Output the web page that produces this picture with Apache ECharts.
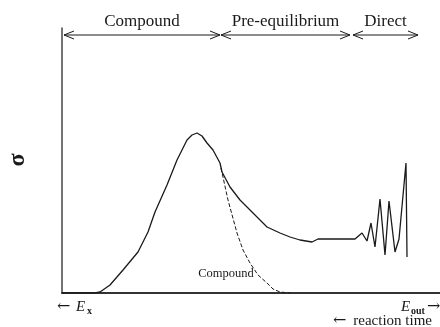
<!DOCTYPE html>
<html>
<head>
<meta charset="utf-8">
<script src="https://cdn.jsdelivr.net/npm/echarts@6/dist/echarts.min.js"></script>
<style>html,body{margin:0;padding:0;background:#fff;}#c{width:440px;height:327px;}</style>
</head>
<body>
<div id="c"></div>
<script>
// total cross section (solid)
var totalX = [0, 33, 38, 48, 61, 76, 86, 93, 105, 115, 125, 130, 135, 140, 145, 151, 158, 160, 168, 178, 191, 205, 218, 228, 238, 250, 256, 271, 293, 300, 305, 309, 313, 318, 323, 327, 333, 337, 344, 345];
var totalY = [0, 0, 1, 8, 23, 41, 61, 81, 108, 133, 153, 158, 160, 157, 150, 143, 130, 121, 106, 93, 80, 66, 60, 56, 53, 51, 54, 54, 54, 60, 52, 70, 46, 94, 38, 92, 41, 54, 130, 36];
// compound contribution (dashed)
var compoundX = [159, 166, 175, 181, 188, 196, 205, 211, 218, 228];
var compoundY = [125, 93, 60, 43, 30, 18, 10, 4, 1, 0];
// reaction regions (top arrows)
var regionNames = ['Compound', 'Pre-equilibrium', 'Direct'];
var regionStart = [2, 159, 291];
var regionEnd = [158, 288, 356];
var regionLevel = [258, 258, 258];

function pairs(xs, ys){ return xs.map(function(x,i){ return [x, ys[i]]; }); }

var chart = echarts.init(document.getElementById('c'), null, {renderer:'canvas'});
var serif = 'Liberation Serif';
var ink = '#1a1a1a';

chart.setOption({
  animation: false,
  backgroundColor: '#fff',
  grid: {left: 62, right: 0, top: 28, bottom: 34, containLabel: false},
  xAxis: {type: 'value', min: 0, max: 378, axisLine: {show: true, onZero: false, lineStyle: {color: '#333', width: 2}},
          axisTick: {show: false}, axisLabel: {show: false}, splitLine: {show: false}},
  yAxis: {type: 'value', min: 0, max: 265, axisLine: {show: true, onZero: false, lineStyle: {color: '#444', width: 1.5}},
          axisTick: {show: false}, axisLabel: {show: false}, splitLine: {show: false}},
  series: [
    {type: 'line', data: pairs(totalX, totalY), showSymbol: false, symbol: 'none',
     lineStyle: {color: ink, width: 1.3}, z: 3},
    {type: 'line', data: pairs(compoundX, compoundY), showSymbol: false, symbol: 'none',
     lineStyle: {color: ink, width: 1, type: [4, 2]}, z: 3},
    {type: 'custom', clip: false,
     data: regionNames.map(function(n,i){ return [regionStart[i], regionEnd[i], regionLevel[i]]; }),
     renderItem: function(params, api){
       var p1 = api.coord([api.value(0), api.value(2)]);
       var p2 = api.coord([api.value(1), api.value(2)]);
       var h = 10, w = 4;
       var st = {stroke: ink, fill: null, lineWidth: 1};
       return {type: 'group', children: [
         {type: 'line', shape: {x1: p1[0], y1: p1[1], x2: p2[0], y2: p2[1]}, style: st},
         {type: 'polyline', shape: {points: [[p1[0]+h, p1[1]-w], [p1[0], p1[1]], [p1[0]+h, p1[1]+w]]}, style: st},
         {type: 'polyline', shape: {points: [[p2[0]-h, p2[1]-w], [p2[0], p2[1]], [p2[0]-h, p2[1]+w]]}, style: st},
         {type: 'text', x: (p1[0]+p2[0])/2, y: p1[1]-5,
          style: {text: regionNames[params.dataIndex], fontFamily: serif, fontSize: 17, fill: ink,
                  align: 'center', verticalAlign: 'bottom'}}
       ]};
     }}
  ],
  graphic: [
    {type: 'text', x: 18, y: 160, rotation: Math.PI/2,
     style: {text: 'σ', fontFamily: serif, fontWeight: 'bold', fontSize: 24, fill: ink, align: 'center', verticalAlign: 'middle'}},
    {type: 'text', x: 226, y: 274,
     style: {text: 'Compound', fontFamily: serif, fontSize: 12.5, fill: ink, align: 'center', verticalAlign: 'middle'}},
    {type: 'text', x: 57, y: 307,
     style: {text: '←', fontFamily: 'DejaVu Serif', fontSize: 16, fill: ink, align: 'left', verticalAlign: 'middle'}},
    {type: 'text', x: 76, y: 307,
     style: {text: 'E', fontFamily: serif, fontStyle: 'italic', fontSize: 15, fill: ink, align: 'left', verticalAlign: 'middle'}},
    {type: 'text', x: 87, y: 311,
     style: {text: 'x', fontFamily: serif, fontWeight: 'bold', fontSize: 10, fill: ink, align: 'left', verticalAlign: 'middle'}},
    {type: 'text', x: 401, y: 307,
     style: {text: 'E', fontFamily: serif, fontStyle: 'italic', fontSize: 15, fill: ink, align: 'left', verticalAlign: 'middle'}},
    {type: 'text', x: 411, y: 311,
     style: {text: 'out', fontFamily: serif, fontWeight: 'bold', fontSize: 10, fill: ink, align: 'left', verticalAlign: 'middle'}},
    {type: 'text', x: 427, y: 307,
     style: {text: '→', fontFamily: 'DejaVu Serif', fontSize: 16, fill: ink, align: 'left', verticalAlign: 'middle'}},
    {type: 'text', x: 333, y: 321,
     style: {text: '←', fontFamily: 'DejaVu Serif', fontSize: 16, fill: ink, align: 'left', verticalAlign: 'middle'}},
    {type: 'text', x: 432, y: 321,
     style: {text: 'reaction time', fontFamily: serif, fontSize: 15, fill: ink, align: 'right', verticalAlign: 'middle'}}
  ]
});
</script>
</body>
</html>
